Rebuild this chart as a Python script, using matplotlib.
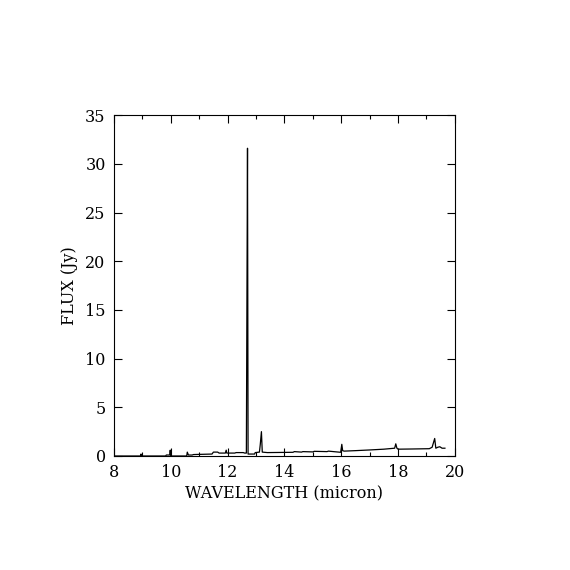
import matplotlib
matplotlib.use("Agg")
import matplotlib.pyplot as plt

wavelength = [8.0, 8.93, 8.95, 8.97, 9.82, 9.84, 9.96, 9.98, 10.0, 10.56, 10.58, 10.62,
              10.75, 10.8, 11.45, 11.5, 11.65, 11.7, 11.92, 11.95, 11.97, 12.25, 12.3,
              12.55, 12.6, 12.66, 12.68, 12.70, 12.72, 12.95, 12.97, 13.12, 13.15, 13.19,
              13.22, 13.4, 14.3, 14.35, 14.6, 14.65, 15.0, 15.05, 15.5, 15.55, 15.98,
              16.02, 16.05, 16.1, 16.5, 17.0, 17.5, 17.88, 17.92, 17.96, 18.0, 18.5,
              19.1, 19.2, 19.29, 19.33, 19.4, 19.47, 19.55, 19.65]
flux = [0.0, 0.0, 0.2, 0.0, 0.0, 0.1, 0.1, 0.6, 0.0, 0.0, 0.4, 0.1,
        0.1, 0.15, 0.2, 0.4, 0.4, 0.3, 0.3, 0.6, 0.3, 0.3, 0.35,
        0.35, 0.3, 0.3, 16.0, 31.6, 0.2, 0.2, 0.35, 0.4, 1.2, 2.5,
        0.4, 0.35, 0.38, 0.45, 0.4, 0.45, 0.42, 0.48, 0.45, 0.5, 0.38,
        1.2, 0.55, 0.5, 0.55, 0.62, 0.7, 0.8, 1.25, 0.8, 0.7, 0.72,
        0.75, 0.9, 1.8, 0.8, 0.9, 0.95, 0.8, 0.8]

x_ticks = [8, 10, 12, 14, 16, 18, 20]
y_ticks = [0, 5, 10, 15, 20, 25, 30, 35]

plt.rcParams['font.family'] = ['DejaVu Serif']

fig = plt.figure(figsize=(5.7, 5.7), dpi=100)
ax = fig.add_axes([0.2, 0.2, 0.598, 0.598])
ax.plot(wavelength, flux, color='black', linewidth=0.9)
ax.set_xlim(8, 20)
ax.set_ylim(0, 35)
ax.set_xticks(x_ticks)
ax.set_xticks(range(8, 21), minor=True)
ax.set_yticks(y_ticks)
ax.tick_params(which='both', direction='in', top=True, right=True, labelsize=11.5, color='black')
ax.tick_params(which='major', length=6, width=0.8, pad=6)
ax.tick_params(which='minor', length=3, width=0.8)
for s in ax.spines.values():
    s.set_linewidth(0.8)
ax.set_xlabel('WAVELENGTH (micron)', fontsize=11.5, labelpad=3)
ax.set_ylabel('FLUX (Jy)', fontsize=11.5, labelpad=5)
fig.savefig('out.png', dpi=100, facecolor='white')
